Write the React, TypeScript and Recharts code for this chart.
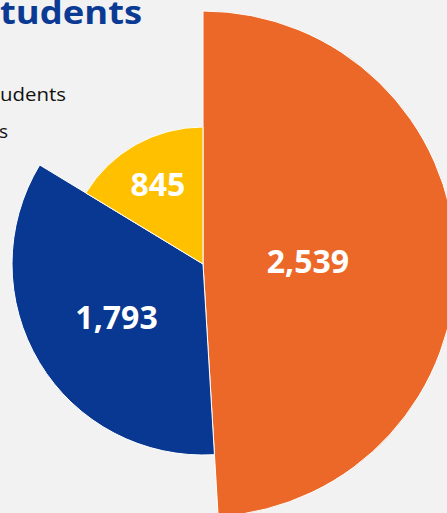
import React from 'react';
import { PieChart, Pie, Cell } from 'recharts';

// chart values
const categories = ['Segment 1', 'Segment 2', 'Segment 3'];
const studentCounts = [2539, 1793, 845];
const legendLabels = ['udents', 's'];
const titleText = 'tudents';

// layout / style
const colors = ['#EC6828', '#083891', '#FFC000'];
const outerRadii = [253, 191, 137];
const labelRadii = [105, 101, 92];
const FONT = '"Open Sans", sans-serif';
const RADIAN = Math.PI / 180;

const data = categories.map((name, i) => ({ name, value: studentCounts[i] }));

const makeLabel = (slice: number) => (props: any) => {
  const { cx, cy, midAngle, index, value } = props;
  if (index !== slice) return null;
  const r = labelRadii[slice];
  const x = cx + r * Math.cos(-midAngle * RADIAN);
  const y = cy + r * Math.sin(-midAngle * RADIAN);
  return (
    <text
      x={x}
      y={y}
      fill="#ffffff"
      textAnchor="middle"
      dominantBaseline="central"
      style={{ fontFamily: FONT, fontWeight: 700, fontSize: 32 }}
    >
      {Number(value).toLocaleString('en-US')}
    </text>
  );
};

export default function App() {
  return (
    <div style={{ width: 447, height: 513, background: '#f2f2f2', position: 'relative', overflow: 'hidden' }}>
      <style>{'body{margin:0;background:#f2f2f2}'}</style>
      <PieChart width={447} height={513} margin={{ top: 0, right: 0, bottom: 0, left: 0 }}>
        <text
          x={0}
          y={24}
          textLength={142}
          lengthAdjust="spacingAndGlyphs"
          fill="#0A3A93"
          style={{ fontFamily: FONT, fontWeight: 700, fontSize: 32 }}
        >
          {titleText}
        </text>
        <text
          x={0}
          y={101}
          textLength={66}
          lengthAdjust="spacingAndGlyphs"
          fill="#111"
          style={{ fontFamily: FONT, fontSize: 19 }}
        >
          {legendLabels[0]}
        </text>
        <text x={8} y={138} textAnchor="end" fill="#111" style={{ fontFamily: FONT, fontSize: 19 }}>
          {legendLabels[1]}
        </text>
        {outerRadii.map((radius, slice) => (
          <Pie
            key={`pie-${slice}`}
            data={data}
            dataKey="value"
            cx={203}
            cy={264}
            innerRadius={0}
            outerRadius={radius}
            startAngle={90}
            endAngle={-270}
            isAnimationActive={false}
            labelLine={false}
            label={makeLabel(slice)}
          >
            {data.map((entry, i) => (
              <Cell
                key={`cell-${slice}-${i}`}
                fill={i === slice ? colors[i] : 'transparent'}
                stroke={i === slice ? '#ffffff' : 'none'}
                strokeWidth={i === slice ? 1 : 0}
              />
            ))}
          </Pie>
        ))}
      </PieChart>
    </div>
  );
}
